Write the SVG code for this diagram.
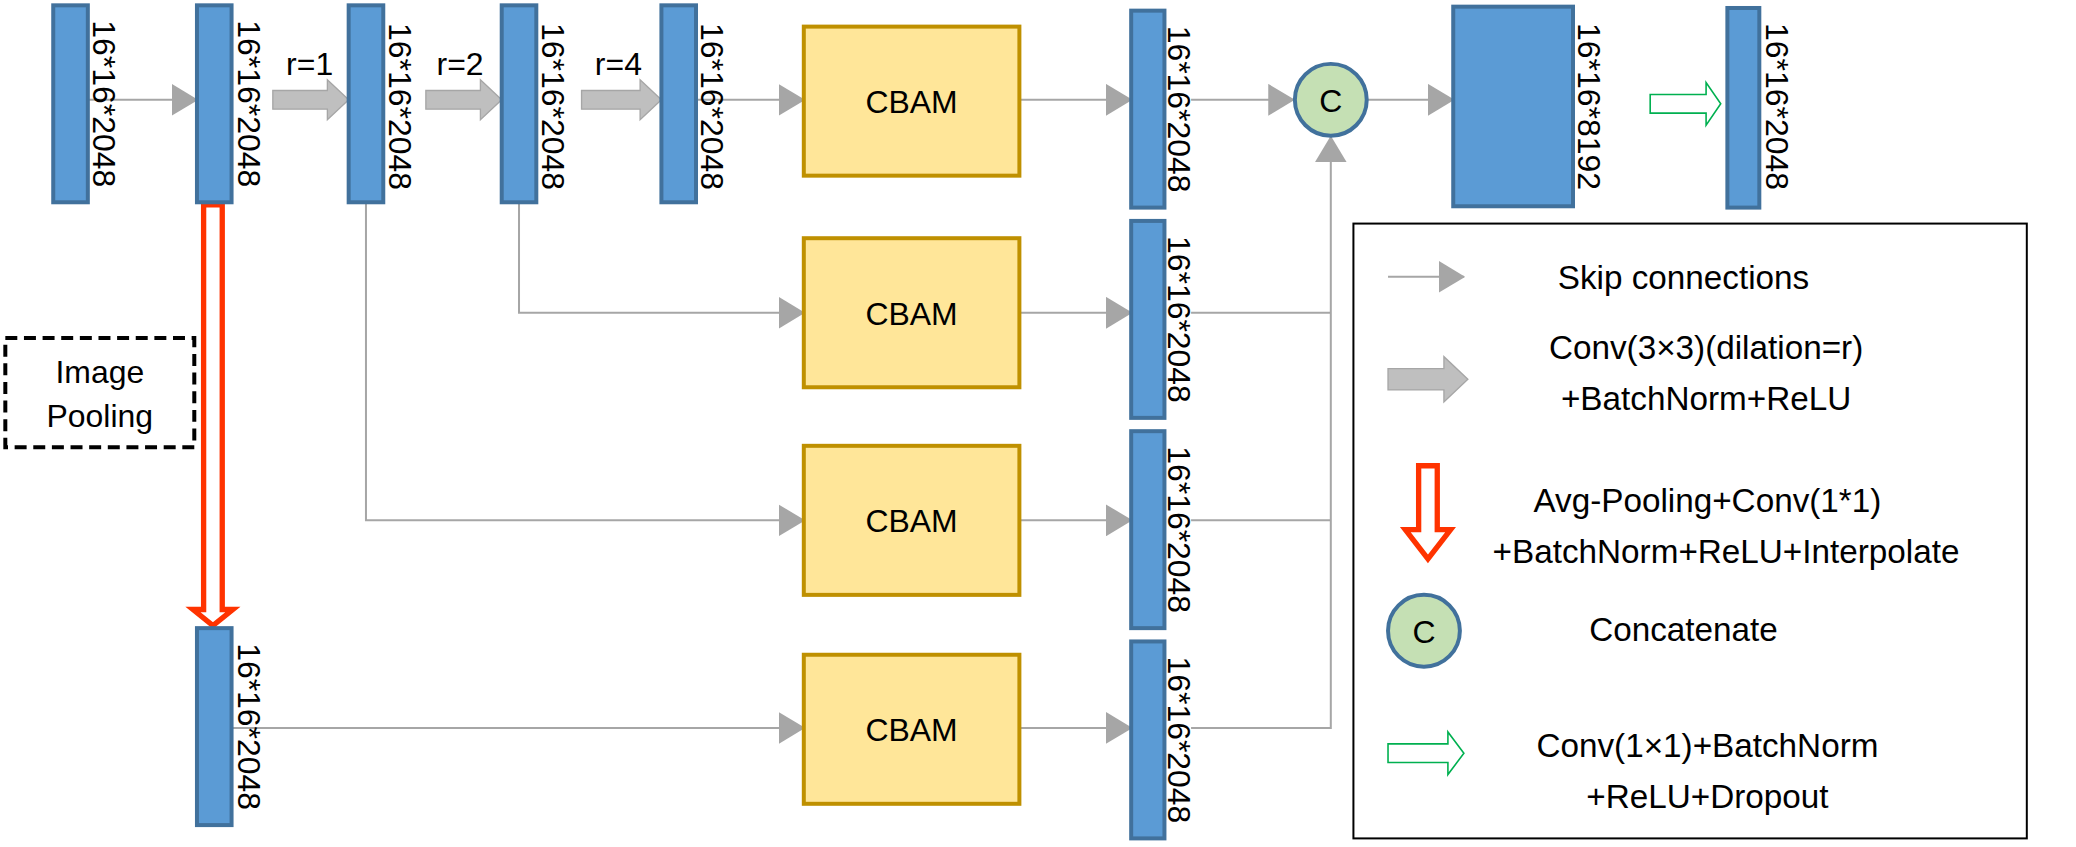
<svg xmlns="http://www.w3.org/2000/svg" width="2076" height="847" viewBox="0 0 2076 847">
<style>
.b{fill:#5b9bd5;stroke:#41719c;stroke-width:3}
.cb{fill:#ffe699;stroke:#bf9000;stroke-width:3}
.t{font-family:"Liberation Sans",Arial,sans-serif;font-size:24px;fill:#000}
.lb{font-family:"Liberation Sans",Arial,sans-serif;font-size:24px;fill:#000;text-anchor:middle}
.lg{font-family:"Liberation Sans",Arial,sans-serif;font-size:25px;fill:#000;text-anchor:middle}
.sk{stroke:#a6a6a6;stroke-width:1.5;fill:none}
.ta{fill:#bfbfbf;stroke:#a6a6a6;stroke-width:1}
.cc{fill:#c5e0b4;stroke:#41719c;stroke-width:3}
</style>
<defs>
<marker id="ah2" viewBox="0 0 20 24" refX="19" refY="12" markerWidth="20" markerHeight="24" orient="auto" markerUnits="userSpaceOnUse">
<path d="M0,0 L20,12 L0,24 z" fill="#a6a6a6"/>
</marker>
</defs>
<g transform="scale(1.3308)">
<g id="connectors">
<line class="sk" x1="66" y1="75" x2="148" y2="75" marker-end="url(#ah2)"/>
<line class="sk" x1="523" y1="75" x2="604" y2="75" marker-end="url(#ah2)"/>
<polyline class="sk" points="390,152 390,235 604,235" marker-end="url(#ah2)"/>
<polyline class="sk" points="275,152 275,391 604,391" marker-end="url(#ah2)"/>
<line class="sk" x1="174" y1="547" x2="604" y2="547" marker-end="url(#ah2)"/>
<line class="sk" x1="766" y1="75" x2="850" y2="75" marker-end="url(#ah2)"/>
<line class="sk" x1="766" y1="235" x2="850" y2="235" marker-end="url(#ah2)"/>
<line class="sk" x1="766" y1="391" x2="850" y2="391" marker-end="url(#ah2)"/>
<line class="sk" x1="766" y1="547" x2="850" y2="547" marker-end="url(#ah2)"/>
<line class="sk" x1="895" y1="75" x2="972" y2="75" marker-end="url(#ah2)"/>
<line class="sk" x1="1028" y1="75" x2="1092" y2="75" marker-end="url(#ah2)"/>
<polyline class="sk" points="895,235 1000,235"/>
<polyline class="sk" points="895,391 1000,391"/>
<polyline class="sk" points="895,547 1000,547 1000,103" marker-end="url(#ah2)"/>
<path class="ta" d="M205,68 L246,68 L246,60 L262,75 L246,90 L246,82 L205,82 z"/>
<path class="ta" d="M320,68 L361,68 L361,60 L377,75 L361,90 L361,82 L320,82 z"/>
<path class="ta" d="M437,68 L481,68 L481,60 L497,75 L481,90 L481,82 L437,82 z"/>
<path d="M153,154 L167,154 L167,458 L175,458 L160,470 L145,458 L153,458 z" fill="#fff" stroke="#ff3300" stroke-width="4"/>
<path d="M1240,71 L1282,71 L1282,62 L1293,78 L1282,94 L1282,85 L1240,85 z" fill="#fff" stroke="#00b050" stroke-width="1.2"/>
</g>
<g id="n1"><rect class="b" x="40" y="4" width="26" height="148"/><text class="lb" transform="translate(70,78) rotate(90)">16*16*2048</text></g>
<g id="n2"><rect class="b" x="148" y="4" width="26" height="148"/><text class="lb" transform="translate(179,78) rotate(90)">16*16*2048</text></g>
<g id="n3"><rect class="b" x="262" y="4" width="26" height="148"/><text class="lb" transform="translate(292,80) rotate(90)">16*16*2048</text></g>
<g id="n4"><rect class="b" x="377" y="4" width="26" height="148"/><text class="lb" transform="translate(407,80) rotate(90)">16*16*2048</text></g>
<g id="n5"><rect class="b" x="497" y="4" width="26" height="148"/><text class="lb" transform="translate(527,80) rotate(90)">16*16*2048</text></g>
<text class="t" x="215" y="56">r=1</text>
<text class="t" x="328" y="56">r=2</text>
<text class="t" x="447" y="56">r=4</text>
<g id="pool"><rect x="4" y="254" width="142" height="82" fill="#fff" stroke="#000" stroke-width="3" stroke-dasharray="9,5"/><text class="lb" x="75" y="288">Image</text><text class="lb" x="75" y="321">Pooling</text></g>
<g id="n6"><rect class="b" x="148" y="472" width="26" height="148"/><text class="lb" transform="translate(179,546) rotate(90)">16*16*2048</text></g>
<g id="cbam1"><rect class="cb" x="604" y="20" width="162" height="112"/><text class="lb" x="685" y="85">CBAM</text></g>
<g id="cbam2"><rect class="cb" x="604" y="179" width="162" height="112"/><text class="lb" x="685" y="244">CBAM</text></g>
<g id="cbam3"><rect class="cb" x="604" y="335" width="162" height="112"/><text class="lb" x="685" y="400">CBAM</text></g>
<g id="cbam4"><rect class="cb" x="604" y="492" width="162" height="112"/><text class="lb" x="685" y="557">CBAM</text></g>
<g id="r1"><rect class="b" x="850" y="8" width="25" height="148"/><text class="lb" transform="translate(878,82) rotate(90)">16*16*2048</text></g>
<g id="r2"><rect class="b" x="850" y="166" width="25" height="148"/><text class="lb" transform="translate(878,240) rotate(90)">16*16*2048</text></g>
<g id="r3"><rect class="b" x="850" y="324" width="25" height="148"/><text class="lb" transform="translate(878,398) rotate(90)">16*16*2048</text></g>
<g id="r4"><rect class="b" x="850" y="482" width="25" height="148"/><text class="lb" transform="translate(878,556) rotate(90)">16*16*2048</text></g>
<g id="concat"><circle class="cc" cx="1000" cy="75" r="27"/><text class="lb" x="1000" y="84">C</text></g>
<g id="big"><rect class="b" x="1092" y="5" width="90" height="150"/><text class="lb" transform="translate(1186,80) rotate(90)">16*16*8192</text></g>
<g id="out"><rect class="b" x="1298" y="6" width="24" height="150"/><text class="lb" transform="translate(1327,80) rotate(90)">16*16*2048</text></g>
<g id="legend">
<rect x="1017" y="168" width="506" height="462" fill="none" stroke="#000" stroke-width="1.5"/>
<line class="sk" x1="1043" y1="208" x2="1100" y2="208" marker-end="url(#ah2)"/>
<text class="lg" x="1265" y="217">Skip connections</text>
<path class="ta" d="M1043,277 L1085,277 L1085,268 L1103,285 L1085,302 L1085,293 L1043,293 z"/>
<text class="lg" x="1282" y="270">Conv(3×3)(dilation=r)</text>
<text class="lg" x="1282" y="308">+BatchNorm+ReLU</text>
<path d="M1066,350 L1080,350 L1080,398 L1090,398 L1073,420 L1056,398 L1066,398 z" fill="#fff" stroke="#ff3300" stroke-width="4"/>
<text class="lg" x="1283" y="385">Avg-Pooling+Conv(1*1)</text>
<text class="lg" x="1297" y="423">+BatchNorm+ReLU+Interpolate</text>
<circle class="cc" cx="1070" cy="474" r="27"/><text class="lb" x="1070" y="483">C</text>
<text class="lg" x="1265" y="482">Concatenate</text>
<path d="M1043,559 L1088,559 L1088,550 L1100,566 L1088,582 L1088,573 L1043,573 z" fill="#fff" stroke="#00b050" stroke-width="1.2"/>
<text class="lg" x="1283" y="569">Conv(1×1)+BatchNorm</text>
<text class="lg" x="1283" y="607">+ReLU+Dropout</text>
</g>
</g>
</svg>
